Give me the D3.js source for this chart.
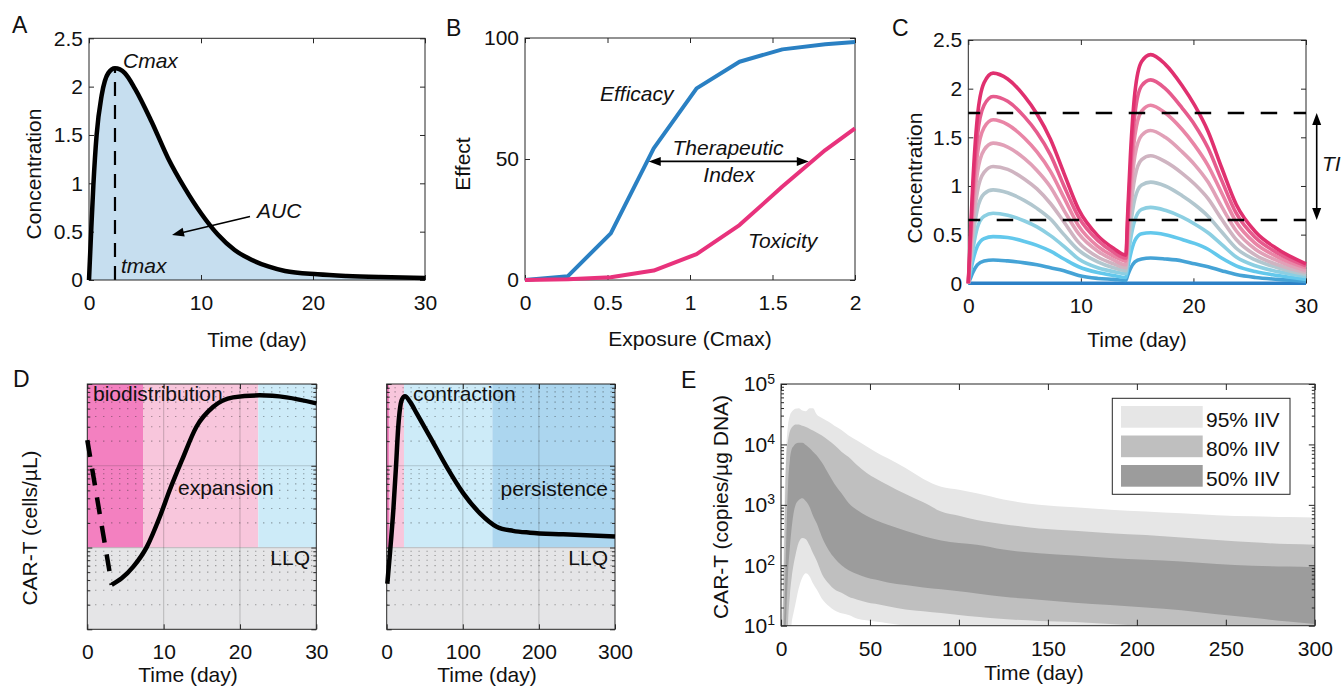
<!DOCTYPE html>
<html>
<head>
<meta charset="utf-8">
<title>PK/PD and CAR-T kinetics</title>
<script src="https://cdn.jsdelivr.net/npm/d3@7"></script>
<style>
  html, body { margin: 0; padding: 0; background: #ffffff; }
  svg { display: block; font-family: "Liberation Sans", Arial, Helvetica, sans-serif; }
  .tick text { font-size: 21px; fill: #111111; }
</style>
</head>
<body>
<svg id="fig" width="1341" height="687" viewBox="0 0 1341 687"></svg>
<script>
// ---------- A: single-dose concentration profile ----------
const pkTime = [0, 0.18, 0.39, 0.68, 1.13, 1.72, 2.32, 3.2, 4.1, 5.58, 7.06, 8.55, 10.0, 11.5, 13.0, 14.5, 16.0, 17.5, 20.4, 23, 26, 30];
const pkConc = [0, 0.47, 0.98, 1.50, 1.91, 2.14, 2.19, 2.14, 1.98, 1.64, 1.26, 0.95, 0.69, 0.47, 0.31, 0.21, 0.14, 0.093, 0.059, 0.042, 0.03, 0.02];
const tmaxDay = 2.32;
const cmaxConc = 2.19;
const concTicks = [0, 0.5, 1, 1.5, 2, 2.5];
const dayTicks30 = [0, 10, 20, 30];

// ---------- B: exposure-response ----------
const exposureCmax = [0, 0.26, 0.52, 0.78, 1.04, 1.3, 1.56, 1.82, 2];
const efficacyPct = [0, 1.6, 19.3, 54.4, 79.2, 90.2, 95.3, 97.4, 98.3];
const toxicityPct = [0, 0.3, 1.1, 3.9, 10.7, 22.7, 38.6, 53.7, 62.7];
const exposureTicks = [0, 0.5, 1, 1.5, 2];
const effectTicks = [0, 50, 100];

// ---------- C: two doses (day 0 and day 14) at ten dose levels ----------
const repeatTime = [0, 0.15, 0.4, 0.8, 1.4, 2.2, 3.5, 5.0, 6.1, 7.3, 8.5, 9.8, 11.5, 12.9, 14.0, 14.15, 14.4, 14.8, 15.4, 16.2, 17.5, 19.0, 20.1, 21.3, 22.5, 23.8, 25.5, 27.5, 30];
const doseLevel0 = [0, 0, 0, 0, 0, 0, 0, 0, 0, 0, 0, 0, 0, 0, 0, 0, 0, 0, 0, 0, 0, 0, 0, 0, 0, 0, 0, 0, 0];
const doseLevel1 = [0, 0.04, 0.11, 0.19, 0.23, 0.24, 0.23, 0.21, 0.19, 0.16, 0.13, 0.08, 0.05, 0.04, 0.03, 0.08, 0.15, 0.22, 0.25, 0.26, 0.25, 0.23, 0.20, 0.17, 0.13, 0.09, 0.06, 0.04, 0.02];
const doseLevel2 = [0, 0.09, 0.23, 0.38, 0.46, 0.48, 0.47, 0.43, 0.39, 0.33, 0.25, 0.17, 0.11, 0.08, 0.06, 0.15, 0.29, 0.44, 0.51, 0.52, 0.50, 0.45, 0.41, 0.35, 0.26, 0.18, 0.12, 0.08, 0.04];
const doseLevel3 = [0, 0.13, 0.34, 0.57, 0.69, 0.72, 0.70, 0.64, 0.58, 0.49, 0.38, 0.25, 0.16, 0.12, 0.10, 0.23, 0.44, 0.65, 0.76, 0.78, 0.75, 0.68, 0.61, 0.52, 0.40, 0.27, 0.18, 0.12, 0.07];
const doseLevel4 = [0, 0.18, 0.46, 0.76, 0.92, 0.96, 0.93, 0.85, 0.77, 0.66, 0.50, 0.34, 0.22, 0.16, 0.13, 0.31, 0.58, 0.87, 1.01, 1.04, 1.00, 0.90, 0.81, 0.69, 0.53, 0.36, 0.24, 0.16, 0.09];
const doseLevel5 = [0, 0.22, 0.57, 0.94, 1.14, 1.20, 1.17, 1.07, 0.97, 0.82, 0.63, 0.42, 0.27, 0.20, 0.16, 0.38, 0.73, 1.09, 1.27, 1.31, 1.25, 1.13, 1.02, 0.87, 0.66, 0.45, 0.29, 0.19, 0.11];
const doseLevel6 = [0, 0.27, 0.69, 1.13, 1.37, 1.44, 1.40, 1.28, 1.16, 0.99, 0.75, 0.51, 0.33, 0.24, 0.19, 0.46, 0.87, 1.31, 1.52, 1.57, 1.50, 1.35, 1.22, 1.04, 0.79, 0.54, 0.35, 0.23, 0.13];
const doseLevel7 = [0, 0.31, 0.80, 1.32, 1.60, 1.68, 1.63, 1.49, 1.35, 1.15, 0.88, 0.59, 0.38, 0.28, 0.23, 0.54, 1.02, 1.52, 1.77, 1.83, 1.75, 1.58, 1.42, 1.21, 0.93, 0.63, 0.41, 0.27, 0.16];
const doseLevel8 = [0, 0.36, 0.92, 1.51, 1.83, 1.92, 1.87, 1.71, 1.55, 1.32, 1.00, 0.68, 0.44, 0.32, 0.26, 0.61, 1.16, 1.74, 2.03, 2.09, 2.00, 1.80, 1.63, 1.39, 1.06, 0.72, 0.47, 0.31, 0.18];
const doseLevel9 = [0, 0.40, 1.03, 1.70, 2.06, 2.16, 2.10, 1.92, 1.74, 1.48, 1.13, 0.76, 0.49, 0.36, 0.29, 0.69, 1.31, 1.96, 2.28, 2.35, 2.25, 2.03, 1.83, 1.56, 1.19, 0.81, 0.53, 0.35, 0.20];
const therapeuticWindow = [0.65, 1.75];

// ---------- D: CAR-T cellular kinetics phases (cells/uL, log scale) ----------
const llq = 1;
const earlyDashTime = [0, 3.2];
const earlyDashLevel = [20.6, 0.35];
const earlyTime = [3.2, 4.5, 6.0, 7.8, 9.5, 10.8, 12.4, 14.3, 16.5, 19.1, 22.6, 26.1, 30];
const earlyLevel = [0.35, 0.42, 0.58, 1.02, 2.38, 5.05, 11.7, 30, 52.6, 68.6, 72.6, 68.6, 57.9];
const longTime = [0.8, 4.5, 8.7, 12, 15.2, 19.7, 24, 31, 39.4, 56.9, 78.8, 100.7, 122.6, 144.5, 166, 188.3, 232, 300];
const longLevel = [0.36, 0.9, 2.87, 9, 30, 63.5, 71, 60, 43.7, 22.6, 9.7, 4.6, 2.62, 1.8, 1.6, 1.52, 1.45, 1.36];
const earlyPhases = [[0, 7.3], [7.3, 22.4], [22.4, 30]];
const longPhases = [[0, 3.5], [3.5, 22.7], [22.7, 138.8], [138.8, 300]];
const dayTicks300 = [0, 100, 200, 300];

// ---------- E: inter-individual variability bands (copies/ug DNA) ----------
const iivTime = [0, 1, 2, 3, 4, 5, 6, 7, 8, 10, 12, 14, 16, 18, 20, 23, 27, 30, 34, 38, 43, 48, 53, 60, 70, 80, 90, 100, 110, 125, 145, 165, 185, 205, 225, 245, 265, 285, 300];
const upper95 = [3.2, 32, 1260, 8900, 21400, 30200, 34700, 37200, 38900, 39800, 36300, 35500, 39800, 39800, 31600, 27500, 23400, 20400, 17400, 14100, 11500, 9330, 7590, 5890, 4070, 2690, 2000, 1780, 1550, 1230, 1000, 912, 832, 776, 724, 676, 646, 631, 617];
const lower95 = [0.1, 0.1, 0.1, 0.1, 0.3, 5, 11, 16, 22, 42, 63, 74, 66, 50, 40, 28, 21, 18, 16, 15, 13, 12.3, 11.7, 11, 10, 9.5, 9, 8.6, 8.2, 7.7, 7.2, 6.8, 6.4, 6.0, 5.7, 5.4, 5.1, 4.8, 4.6];
const upper80 = [2, 10, 316, 6310, 12000, 16600, 19100, 20400, 21400, 21400, 20400, 19500, 18200, 17000, 15800, 14100, 11500, 9770, 7590, 6170, 4470, 3390, 2750, 2140, 1510, 1100, 776, 661, 562, 479, 407, 372, 339, 316, 288, 263, 240, 224, 219];
const lower80 = [0.1, 0.1, 0.1, 0.5, 10, 32, 63, 100, 141, 240, 282, 269, 214, 158, 120, 72, 49, 40, 35, 30, 27, 24.5, 23, 21, 18.6, 17.4, 16.2, 15.1, 14.1, 12.9, 12.0, 11.5, 10.7, 10, 9.3, 8.7, 8.1, 7.6, 7.2];
const upper50 = [1, 3.2, 20, 316, 2240, 5620, 8320, 9330, 10200, 10700, 10700, 9770, 8710, 7590, 6610, 5010, 3160, 2240, 1550, 1070, 813, 661, 562, 468, 372, 302, 257, 234, 219, 182, 158, 145, 132, 123, 115, 105, 98, 95, 93];
const lower50 = [0.1, 0.32, 3.2, 16, 79, 200, 417, 708, 955, 1200, 1290, 1150, 933, 661, 501, 295, 174, 132, 100, 83, 71, 63, 58, 52, 47, 43, 40, 37, 34, 30, 27, 24, 22, 20, 18, 15.5, 13.5, 11.7, 10.7];
const iivLabels = ['95% IIV', '80% IIV', '50% IIV'];
const iivDayTicks = [0, 50, 100, 150, 200, 250, 300];
const copiesTicks = [10, 100, 1000, 10000, 100000];

// ================= drawing =================
const svg = d3.select('#fig');
const INK = '#262626';
const TEXT = '#111111';

function styleAxis(sel, keepLabels) {
  sel.select('.domain').remove();
  sel.attr('font-family', null).attr('font-size', null);
  sel.selectAll('.tick line').attr('stroke', INK).attr('stroke-width', 1);
  if (!keepLabels) sel.selectAll('.tick text').remove();
  return sel;
}

// MATLAB-style boxed axes: inward ticks on all four sides
function frame(g, x, y, o) {
  const [xl, xr] = x.range();
  const [yb, yt] = y.range();
  const tl = o.tick || 5;
  styleAxis(g.append('g').attr('transform', `translate(0,${yb})`)
    .call(d3.axisBottom(x).tickValues(o.xTicks).tickSize(-tl).tickPadding(15).tickFormat(o.xFormat || (d => d))), true);
  styleAxis(g.append('g').attr('transform', `translate(0,${yt})`)
    .call(d3.axisTop(x).tickValues(o.xTicks).tickSize(-tl)), false);
  const left = styleAxis(g.append('g').attr('transform', `translate(${xl},0)`)
    .call(d3.axisLeft(y).tickValues(o.yTicks).tickSize(-tl).tickPadding(6).tickFormat(o.yFormat || (d => d))), o.yLabels !== false);
  styleAxis(g.append('g').attr('transform', `translate(${xr},0)`)
    .call(d3.axisRight(y).tickValues(o.yTicks).tickSize(-tl)), false);
  if (o.yMinor) {
    styleAxis(g.append('g').attr('transform', `translate(${xl},0)`)
      .call(d3.axisLeft(y).tickValues(o.yMinor).tickSize(-3)), false);
    styleAxis(g.append('g').attr('transform', `translate(${xr},0)`)
      .call(d3.axisRight(y).tickValues(o.yMinor).tickSize(-3)), false);
  }
  if (o.decorateY) o.decorateY(left.selectAll('.tick text'));
  g.append('rect').attr('x', xl).attr('y', yt).attr('width', xr - xl).attr('height', yb - yt)
    .attr('fill', 'none').attr('stroke', INK).attr('stroke-width', 1);
}

function label(g, txt, x, y, o = {}) {
  return g.append('text').attr('x', x).attr('y', y)
    .attr('text-anchor', o.anchor || 'start')
    .attr('font-size', o.size || 21)
    .attr('font-style', o.italic ? 'italic' : null)
    .attr('fill', TEXT).text(txt);
}
function yTitle(g, txt, x, cy) {
  return g.append('text').attr('transform', `translate(${x},${cy}) rotate(-90)`)
    .attr('text-anchor', 'middle').attr('font-size', 21).attr('fill', TEXT).text(txt);
}
function arrowHead(g, tip, from, len = 12, half = 4.5) {
  const dx = tip[0] - from[0], dy = tip[1] - from[1];
  const L = Math.hypot(dx, dy), ux = dx / L, uy = dy / L;
  const bx = tip[0] - ux * len, by = tip[1] - uy * len;
  g.append('path')
    .attr('d', `M${tip[0]},${tip[1]}L${bx - uy * half},${by + ux * half}L${bx + uy * half},${by - ux * half}Z`)
    .attr('fill', '#000');
  return [bx + ux * 1, by + uy * 1];
}
function arrow(g, from, to, both) {
  const end = arrowHead(g, to, from);
  const start = both ? arrowHead(g, from, to) : from;
  g.append('line').attr('x1', start[0]).attr('y1', start[1]).attr('x2', end[0]).attr('y2', end[1])
    .attr('stroke', '#000').attr('stroke-width', 1.6);
}
const minorLog = decades => decades.flatMap(d => [2, 3, 4, 5, 6, 7, 8, 9].map(k => k * d));

// ---------- panel A ----------
{
  const g = svg.append('g');
  const x = d3.scaleLinear().domain([0, 30]).range([89, 425]);
  const y = d3.scaleLinear().domain([0, 2.5]).range([280, 38.3]);
  const pts = pkTime.map((t, i) => ({ t, c: pkConc[i] }));
  g.append('path').datum(pts)
    .attr('d', d3.area().x(d => x(d.t)).y0(y(0)).y1(d => y(d.c)).curve(d3.curveMonotoneX))
    .attr('fill', '#c6deef');
  g.append('line').attr('x1', x(tmaxDay)).attr('x2', x(tmaxDay)).attr('y1', y(0)).attr('y2', y(cmaxConc))
    .attr('stroke', '#000').attr('stroke-width', 2.2).attr('stroke-dasharray', '14,9');
  frame(g, x, y, { xTicks: dayTicks30, yTicks: concTicks });
  g.append('path').datum(pts)
    .attr('d', d3.line().x(d => x(d.t)).y(d => y(d.c)).curve(d3.curveMonotoneX))
    .attr('fill', 'none').attr('stroke', '#000').attr('stroke-width', 4.5).attr('stroke-linejoin', 'round');
  label(g, 'Cmax', 123, 68, { italic: true });
  label(g, 'tmax', 121, 273, { italic: true });
  label(g, 'AUC', 257, 218, { italic: true });
  arrow(g, [250, 216.5], [172, 235]);
  yTitle(g, 'Concentration', 41, 174);
  label(g, 'Time (day)', 257, 347, { anchor: 'middle' });
  label(g, 'A', 12, 33, { size: 23 });
}

// ---------- panel B ----------
{
  const g = svg.append('g');
  const x = d3.scaleLinear().domain([0, 2]).range([525, 855]);
  const y = d3.scaleLinear().domain([0, 100]).range([280, 38]);
  frame(g, x, y, { xTicks: exposureTicks, yTicks: effectTicks });
  const line = vals => d3.line().x((d, i) => x(exposureCmax[i])).y(d => y(d))(vals);
  g.append('path').attr('d', line(efficacyPct)).attr('fill', 'none')
    .attr('stroke', '#2a80c3').attr('stroke-width', 4).attr('stroke-linejoin', 'round');
  g.append('path').attr('d', line(toxicityPct)).attr('fill', 'none')
    .attr('stroke', '#e8327c').attr('stroke-width', 4).attr('stroke-linejoin', 'round');
  label(g, 'Efficacy', 600, 101, { italic: true });
  label(g, 'Therapeutic', 728, 155, { italic: true, anchor: 'middle' });
  label(g, 'Index', 729, 182, { italic: true, anchor: 'middle' });
  label(g, 'Toxicity', 748, 248, { italic: true });
  arrow(g, [x(0.75), y(49)], [x(1.72), y(49)], true);
  yTitle(g, 'Effect', 470, 164);
  label(g, 'Exposure (Cmax)', 690, 346, { anchor: 'middle' });
  label(g, 'B', 446, 36, { size: 23 });
}

// ---------- panel C ----------
{
  const g = svg.append('g');
  const x = d3.scaleLinear().domain([0, 30]).range([968.3, 1306]);
  const y = d3.scaleLinear().domain([0, 2.5]).range([283.3, 40]);
  frame(g, x, y, { xTicks: dayTicks30, yTicks: concTicks });
  const doseSeries = [doseLevel0, doseLevel1, doseLevel2, doseLevel3, doseLevel4,
                      doseLevel5, doseLevel6, doseLevel7, doseLevel8, doseLevel9];
  const doseColors = ['#2b80c6', '#45a3d6', '#63c8ec', '#8ccfe2', '#b2c7cf',
                      '#cfb4c1', '#e1a0b7', '#e985a6', '#e65b8d', '#e0306f'];
  const line = d3.line().x((d, i) => x(repeatTime[i])).y(d => y(d)).curve(d3.curveMonotoneX);
  doseSeries.forEach((s, k) => {
    g.append('path').attr('d', line(s)).attr('fill', 'none')
      .attr('stroke', doseColors[k]).attr('stroke-width', 3.6).attr('stroke-linejoin', 'round');
  });
  therapeuticWindow.forEach(v => {
    g.append('line').attr('x1', x(0)).attr('x2', x(30)).attr('y1', y(v)).attr('y2', y(v))
      .attr('stroke', '#000').attr('stroke-width', 2.6)
      .attr('stroke-dasharray', '16.5,16.5').attr('stroke-dashoffset', 4.6);
  });
  arrow(g, [1316.7, y(therapeuticWindow[1])], [1316.7, y(therapeuticWindow[0])], true);
  label(g, 'TI', 1322, 171, { italic: true });
  yTitle(g, 'Concentration', 921.5, 178);
  label(g, 'Time (day)', 1137, 347, { anchor: 'middle' });
  label(g, 'C', 892, 36, { size: 23 });
}

// ---------- panel D ----------
{
  const g = svg.append('g');
  const y = d3.scaleLog().domain([0.1, 100]).range([629.3, 384]);
  const yMinor = minorLog([0.1, 1, 10]);
  const panels = [
    { x: d3.scaleLinear().domain([0, 30]).range([87.3, 316.3]), ticks: dayTicks30, phases: earlyPhases,
      colors: ['#f380c0', '#f8c6dc', '#cdebf8'], title: 188 },
    { x: d3.scaleLinear().domain([0, 300]).range([386.7, 615]), ticks: dayTicks300, phases: longPhases,
      colors: ['#f380c0', '#f8c6dc', '#cdebf8', '#acd6ef'], title: 487 }
  ];
  panels.forEach(p => {
    const x = p.x;
    // phase backgrounds above the quantification limit, grey below it
    p.phases.forEach((ph, i) => {
      g.append('rect').attr('x', x(ph[0])).attr('width', x(ph[1]) - x(ph[0]))
        .attr('y', y(100)).attr('height', y(llq) - y(100)).attr('fill', p.colors[i]);
    });
    g.append('rect').attr('x', x.range()[0]).attr('width', x.range()[1] - x.range()[0])
      .attr('y', y(llq)).attr('height', y(0.1) - y(llq)).attr('fill', '#e5e5e7');
    // minor (dotted) and major grid
    yMinor.forEach(v => {
      g.append('line').attr('x1', x.range()[0]).attr('x2', x.range()[1]).attr('y1', y(v)).attr('y2', y(v))
        .attr('stroke', 'rgba(38,38,38,0.38)').attr('stroke-width', 1.1).attr('stroke-dasharray', '1.4,6.6')
        .attr('stroke-dashoffset', 0.3);
    });
    [1, 10].forEach(v => {
      g.append('line').attr('x1', x.range()[0]).attr('x2', x.range()[1]).attr('y1', y(v)).attr('y2', y(v))
        .attr('stroke', 'rgba(38,38,38,0.2)').attr('stroke-width', 1.2);
    });
    p.ticks.slice(1, -1).forEach(v => {
      g.append('line').attr('x1', x(v)).attr('x2', x(v)).attr('y1', y(0.1)).attr('y2', y(100))
        .attr('stroke', 'rgba(38,38,38,0.2)').attr('stroke-width', 1.2);
    });
    frame(g, x, y, { xTicks: p.ticks, yTicks: [0.1, 1, 10, 100], yMinor, yLabels: false });
    label(g, 'Time (day)', p.title, 682, { anchor: 'middle' });
  });
  const xs = panels[0].x, xl = panels[1].x;
  const curve = (x, ts, vs) => d3.line().x((d, i) => x(ts[i])).y(d => y(d)).curve(d3.curveMonotoneX)(vs);
  g.append('path').attr('d', curve(xs, earlyDashTime, earlyDashLevel)).attr('fill', 'none')
    .attr('stroke', '#000').attr('stroke-width', 4.5).attr('stroke-dasharray', '17,12');
  g.append('path').attr('d', curve(xs, earlyTime, earlyLevel)).attr('fill', 'none')
    .attr('stroke', '#000').attr('stroke-width', 4.5).attr('stroke-linejoin', 'round');
  g.append('path').attr('d', curve(xl, longTime, longLevel)).attr('fill', 'none')
    .attr('stroke', '#000').attr('stroke-width', 4.5).attr('stroke-linejoin', 'round');
  label(g, 'biodistribution', 93, 401);
  label(g, 'expansion', 178, 495);
  label(g, 'LLQ', 310, 565, { anchor: 'end' });
  label(g, 'contraction', 413, 401);
  label(g, 'persistence', 608, 496, { anchor: 'end' });
  label(g, 'LLQ', 608, 565, { anchor: 'end' });
  yTitle(g, 'CAR-T (cells/\u00B5L)', 37, 528);
  label(g, 'D', 13, 387, { size: 23 });
}

// ---------- panel E ----------
{
  const g = svg.append('g');
  const x = d3.scaleLinear().domain([0, 300]).range([781, 1314.8]);
  const y = d3.scaleLog().domain([10, 1e5]).range([625.7, 384]);
  svg.append('clipPath').attr('id', 'clipE').append('rect')
    .attr('x', 781).attr('y', 384).attr('width', 1314.8 - 781).attr('height', 625.7 - 384);
  const bands = [[lower95, upper95], [lower80, upper80], [lower50, upper50]];
  const bandColors = ['#e6e6e6', '#bfbfbf', '#9c9c9c'];
  const area = (lo, hi) => d3.area().x((d, i) => x(iivTime[i])).y0((d, i) => y(lo[i])).y1((d, i) => y(hi[i]))
    .curve(d3.curveMonotoneX)(iivTime);
  const bandLayer = g.append('g').attr('clip-path', 'url(#clipE)');
  bands.forEach((b, i) => bandLayer.append('path').attr('d', area(b[0], b[1])).attr('fill', bandColors[i]));
  frame(g, x, y, {
    xTicks: iivDayTicks, yTicks: copiesTicks, yMinor: minorLog([10, 100, 1000, 10000]), tick: 6,
    decorateY: sel => sel.each(function (d) {
      const t = d3.select(this).text(null);
      t.append('tspan').text('10');
      t.append('tspan').attr('dy', '-0.55em').style('font-size', '14px').text(Math.round(Math.log10(d)));
    })
  });
  // legend
  const lg = g.append('g');
  lg.append('rect').attr('x', 1112.3).attr('y', 398.3).attr('width', 177.7).attr('height', 96)
    .attr('fill', '#fff').attr('stroke', INK).attr('stroke-width', 1);
  iivLabels.forEach((t, i) => {
    const top = 406 + i * 29.5;
    lg.append('rect').attr('x', 1121).attr('y', top).attr('width', 81.7).attr('height', 21.7).attr('fill', bandColors[i]);
    label(lg, t, 1206, top + 20.5);
  });
  yTitle(g, 'CAR-T (copies/\u00B5g DNA)', 728, 507);
  label(g, 'Time (day)', 1034, 680, { anchor: 'middle' });
  label(g, 'E', 681, 388, { size: 23 });
}
</script>
</body>
</html>
